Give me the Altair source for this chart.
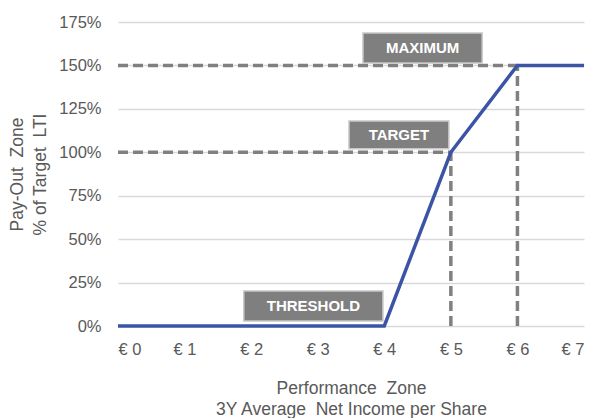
import altair as alt
import pandas as pd

# Pay-out curve
eps = [0, 4, 5, 6, 7]
payout = [0, 0, 100, 150, 150]

# Reference (dashed) lines
ref_x = [5, 6]
ref_y = [100, 150]

# Label boxes
lab_text = ["THRESHOLD", "TARGET", "MAXIMUM"]
lab_x0 = [1.89, 3.47, 3.68]
lab_x1 = [3.98, 4.97, 5.47]
lab_y0 = [2.9, 102.0, 151.4]
lab_y1 = [20.1, 118.0, 168.7]

x_ticks = [0, 1, 2, 3, 4, 5, 6, 7]
y_ticks = [0, 25, 50, 75, 100, 125, 150, 175]

FONT = "Liberation Sans"
GRAY_TXT = "#595959"
SP2 = "\u00a0 "

curve = pd.DataFrame({"eps": eps, "payout": payout})
refs = pd.DataFrame({"rx": ref_x, "ry": ref_y, "zero": [0, 0]})
labs = pd.DataFrame({
    "text": lab_text, "x0": lab_x0, "x1": lab_x1, "y0": lab_y0, "y1": lab_y1,
})
labs["xm"] = (labs["x0"] + labs["x1"]) / 2
labs["ym"] = (labs["y0"] + labs["y1"]) / 2

xscale = alt.Scale(domain=[0, 7], nice=False)
yscale = alt.Scale(domain=[0, 175], nice=False)

xaxis = alt.Axis(
    values=x_ticks, labelExpr="'€ ' + datum.value", grid=False, domain=False,
    ticks=False, labelPadding=15, labelFontSize=16.5, labelColor=GRAY_TXT,
    labelFont=FONT,
    title=["Performance" + SP2 + "Zone", "3Y Average" + SP2 + "Net Income per Share"],
    titleFont=FONT, titleFontSize=17.5, titleFontWeight="normal", titleColor=GRAY_TXT,
    titlePadding=22, titleLineHeight=21,
)
yaxis = alt.Axis(
    values=y_ticks, labelExpr="datum.value + '%'", grid=True, gridColor="#d9d9d9",
    gridWidth=1.5, domain=False, ticks=False, labelPadding=17, labelFontSize=16.5,
    labelColor=GRAY_TXT, labelFont=FONT,
    title=["Pay-Out" + SP2 + "Zone", "% of Target" + SP2 + "LTI"],
    titleFont=FONT, titleFontSize=17.5, titleFontWeight="normal", titleColor=GRAY_TXT,
    titlePadding=9, titleLineHeight=23,
)

base_curve = alt.Chart(curve).mark_line(color="#3c54a5", strokeWidth=3.5).encode(
    x=alt.X("eps:Q", scale=xscale, axis=xaxis),
    y=alt.Y("payout:Q", scale=yscale, axis=yaxis),
)

hlines = alt.Chart(refs).mark_rule(color="#808080", strokeWidth=3.5, strokeDash=[10, 5]).encode(
    x=alt.X("zero:Q", scale=xscale), x2="rx:Q", y=alt.Y("ry:Q", scale=yscale),
)
vlines = alt.Chart(refs).mark_rule(color="#808080", strokeWidth=3.5, strokeDash=[10, 5]).encode(
    x=alt.X("rx:Q", scale=xscale), y=alt.Y("zero:Q", scale=yscale), y2="ry:Q",
)

boxes = alt.Chart(labs).mark_rect(color="#7f7f7f", stroke="#c8c8c8", strokeWidth=1.5).encode(
    x=alt.X("x0:Q", scale=xscale), x2="x1:Q",
    y=alt.Y("y0:Q", scale=yscale), y2="y1:Q",
)
texts = alt.Chart(labs).mark_text(
    color="white", font=FONT, fontSize=15, fontWeight="bold", baseline="middle", align="center",
).encode(
    x=alt.X("xm:Q", scale=xscale), y=alt.Y("ym:Q", scale=yscale), text="text:N",
)

chart = alt.layer(hlines, vlines, base_curve, boxes, texts).properties(
    width=466, height=304,
    autosize=alt.AutoSizeParams(type="none"),
    padding={"left": 110, "top": 14, "right": 5, "bottom": 92},
).configure_view(stroke=None)

chart.save("out.html", embed_options={"renderer": "svg", "actions": False})
